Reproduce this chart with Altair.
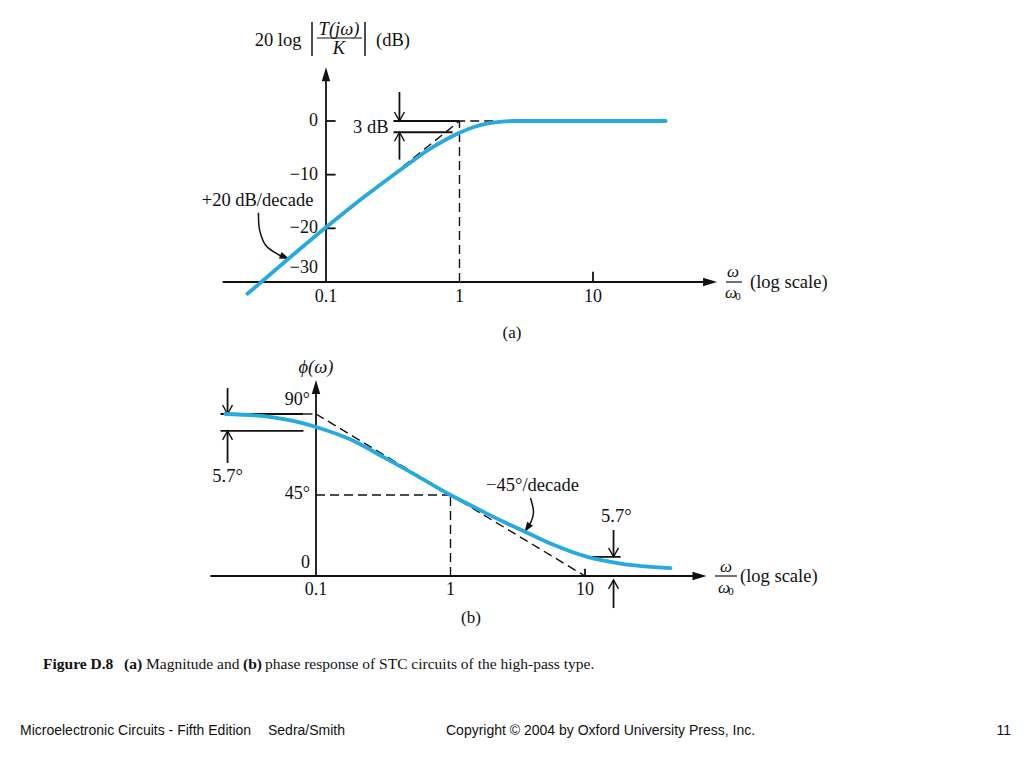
import altair as alt
import pandas as pd

# ---------------- values ----------------
# (a) magnitude response  (omega/omega0, dB)
mag_w = [0.0258, 0.05, 0.1, 0.18, 0.256, 0.4, 0.6, 0.8, 1.0, 1.25, 1.6, 2.0, 2.6, 5.0, 35.0]
mag_db = [-32.2, -26.1, -19.8, -14.7, -11.85, -8.3, -5.2, -3.4, -2.2, -1.2, -0.5, -0.15, 0.0, 0.0, 0.0]
mag_asym_w = [0.1, 1.0, 2.54]
mag_asym_db = [-20.0, 0.0, 0.0]
mag_yticks = [0, -10, -20]
mag_ylabel_text = ["0", "−10", "−20", "−30"]
mag_ylabel_val = [0, -10, -20, -27.4]
x_tick_text = ["0.1", "1", "10"]
x_tick_val = [0.1, 1, 10]

# (b) phase response  (omega/omega0, degrees)
ph_w = [0.0212, 0.0436, 0.0767, 0.1, 0.181, 0.318, 0.568, 1.0, 1.59, 2.5, 3.49, 5.83, 10.4, 18.4, 43.2]
ph_deg = [90, 88.5, 85.2, 82.8, 75.8, 66.0, 55.5, 45, 37.3, 30, 25, 17.3, 10.6, 6.9, 4.4]
ph_asym_w = [0.1, 10]
ph_asym_deg = [90, 0]
ph_ylabel_text = ["90°", "45°", "0"]
ph_ylabel_val = [97.8, 45.5, 7.2]

# ---------------- styles ----------------
CURVE = "#27a9e1"
INK = "#111111"
SERIF = "Liberation Serif"
SANS = "Liberation Sans"
DASH = [9, 5]

XS = {
    "a": dict(type="log", domain=[0.1, 10], range=[318, 585], nice=False),
    "b": dict(type="log", domain=[0.1, 10], range=[308, 577], nice=False),
}
YS = {
    "a": dict(type="linear", domain=[-30, 0], range=[274, 113], nice=False, zero=False),
    "b": dict(type="linear", domain=[0, 90], range=[568, 406], nice=False, zero=False),
}


def X(p, f="w"):
    return alt.X(f + ":Q", scale=alt.Scale(**XS[p]), axis=None)


def Y(p, f="v"):
    return alt.Y(f + ":Q", scale=alt.Scale(**YS[p]), axis=None)


def segs(p, rows, dash=False):
    df = pd.DataFrame(rows, columns=["w", "w2", "v", "v2"])
    m = dict(color=INK, strokeWidth=1.8)
    if dash:
        m.update(strokeDash=DASH, strokeWidth=1.4)
    return alt.Chart(df).mark_rule(**m).encode(x=X(p), x2="w2", y=Y(p), y2="v2")


def polyline(p, w, v, **mk):
    df = pd.DataFrame({"w": w, "v": v, "i": list(range(len(w)))})
    return alt.Chart(df).mark_line(**mk).encode(x=X(p), y=Y(p), order="i:Q")


def heads(p, rows, kind):
    df = pd.DataFrame(rows, columns=["w", "v", "ang"])
    if kind == "solid":
        mk = dict(shape="M0,0 L-1,-0.3 L-1,0.3 Z", filled=True, size=784,
                  color=INK, opacity=1, strokeWidth=0)
    elif kind == "v":
        mk = dict(shape="M-1,-0.55 L0,0 L-1,0.55", filled=False, size=324,
                  color=INK, opacity=1, strokeWidth=1.4)
    else:
        mk = dict(shape="M0,0 L-1,-0.35 L-1,0.35 Z", filled=True, size=400,
                  color=INK, opacity=1, strokeWidth=0)
    return alt.Chart(df).mark_point(**mk).encode(
        x=X(p), y=Y(p), angle=alt.Angle("ang:Q", scale=None))


def labels(p, w, v, t, **mk):
    df = pd.DataFrame({"w": w, "v": v, "t": t})
    base = dict(font=SERIF, fontSize=18, color=INK, baseline="middle", align="center")
    base.update(mk)
    return alt.Chart(df).mark_text(**base).encode(x=X(p), y=Y(p), text="t:N")


def ptext(t, x, y, **mk):
    base = dict(font=SERIF, fontSize=18.5, color=INK, baseline="middle", align="center")
    base.update(mk)
    return alt.Chart(pd.DataFrame({"t": [t]})).mark_text(**base).encode(
        x=alt.value(x), y=alt.value(y), text="t:N")


def prule(x, x2, y, y2, w=1.5):
    return alt.Chart(pd.DataFrame({"a": [0]})).mark_rule(color=INK, strokeWidth=w).encode(
        x=alt.value(x), x2=alt.value(x2), y=alt.value(y), y2=alt.value(y2))


layers = []

# ================= panel (a) =================
layers.append(segs("a", [
    (0.0168, 75, -30, -30),          # x axis
    (0.1, 0.1, -30, 8.5),            # y axis
    (0.1, 0.118, mag_yticks[0], mag_yticks[0]),
    (0.1, 0.118, mag_yticks[1], mag_yticks[1]),
    (0.1, 0.118, mag_yticks[2], mag_yticks[2]),
    (10, 10, -30, -28.1),            # tick at 10
    (0.32, 1.0, 0, 0),               # 0 dB reference
    (0.32, 0.887, -2.1, -2.1),       # -3 dB reference
    (0.355, 0.355, 5.4, 0),
    (0.355, 0.355, -7.2, -2.1),
]))
layers.append(segs("a", [(1, 1, -30, 0)], dash=True))
layers.append(polyline("a", mag_asym_w, mag_asym_db, color=INK, strokeWidth=1.4, strokeDash=DASH))
layers.append(heads("a", [(85, -30, 0), (0.1, 10, 270)], "solid"))
layers.append(heads("a", [(0.355, 0, 90), (0.355, -2.1, 270)], "v"))
layers.append(polyline("a", [0.0312, 0.0318, 0.0352, 0.0433, 0.0533],
                       [-17.1, -20.3, -23.1, -24.8, -25.7],
                       color=INK, strokeWidth=1.5, interpolate="cardinal"))
layers.append(heads("a", [(0.0533, -25.7, 22)], "small"))
layers.append(polyline("a", mag_w, mag_db, color=CURVE, strokeWidth=3.8,
                       interpolate="monotone", strokeCap="round"))
layers.append(labels("a", [0.1] * 4, mag_ylabel_val, mag_ylabel_text, align="right", dx=-8))
layers.append(labels("a", x_tick_val, [-30] * 3, x_tick_text, dy=15))
layers.append(labels("a", [0.294], [-1.1], ["3 dB"], align="right", fontSize=18.5))
layers.append(labels("a", [0.0307], [-14.7], ["+20 dB/decade"], fontSize=18.5))

# axis titles of (a)
layers.append(ptext("20 log", 270, 32))
layers.append(prule(304, 304, 14, 48))
layers.append(prule(357, 357, 14, 48))
layers.append(ptext("T(jω)", 331, 21, fontStyle="italic"))
layers.append(prule(309, 354, 30, 30, 1.2))
layers.append(ptext("K", 331, 40, fontStyle="italic"))
layers.append(ptext("(dB)", 385, 32))
layers.append(ptext("ω", 725, 264, fontStyle="italic", fontSize=17))
layers.append(prule(718, 734, 274, 274, 1.2))
layers.append(ptext("ω", 723, 285, fontStyle="italic", fontSize=17))
layers.append(ptext("0", 730, 289, fontSize=11))
layers.append(ptext("(log scale)", 742, 274, align="left"))
layers.append(ptext("(a)", 504, 325, fontSize=17))

# ================= panel (b) =================
layers.append(segs("b", [
    (0.0164, 75, 0, 0),              # x axis
    (0.1, 0.1, 0, 106),              # y axis
    (10, 10, 0, 4),                  # tick at 10
    (0.0195, 0.0807, 90, 90),
    (0.0195, 0.0807, 80.6, 80.6),
    (10, 18.4, 10.6, 10.6),
    (0.022, 0.022, 104.4, 90),
    (0.022, 0.022, 62.8, 80.6),
    (16.3, 16.3, 25.6, 10.6),
    (16.3, 16.3, -17.8, -2.2),
]))
layers.append(segs("b", [
    (0.0807, 0.1, 90, 90),
    (0.1, 1, 45, 45),
    (1, 1, 0, 45),
], dash=True))
layers.append(polyline("b", ph_asym_w, ph_asym_deg, color=INK, strokeWidth=1.4, strokeDash=DASH))
layers.append(heads("b", [(80, 0, 0), (0.1, 108.9, 270)], "solid"))
layers.append(heads("b", [(0.022, 90, 90), (0.022, 80.6, 270),
                          (16.3, 10.6, 90), (16.3, -2.2, 270)], "v"))
layers.append(polyline("b", [3.93, 4.14, 3.93, 3.55], [43.3, 35.6, 29.4, 24.4],
                       color=INK, strokeWidth=1.5, interpolate="cardinal"))
layers.append(heads("b", [(3.55, 24.4, 124)], "small"))
layers.append(polyline("b", ph_w, ph_deg, color=CURVE, strokeWidth=3.8,
                       interpolate="monotone", strokeCap="round"))
layers.append(labels("b", [0.1] * 3, ph_ylabel_val, ph_ylabel_text, align="right", dx=-6))
layers.append(labels("b", x_tick_val, [0] * 3, x_tick_text, dy=14))
layers.append(labels("b", [0.022], [55.6], ["5.7°"], fontSize=18.5))
layers.append(labels("b", [4.07], [50.6], ["−45°/decade"], fontSize=18.5))
layers.append(labels("b", [17.1], [33.3], ["5.7°"], fontSize=18.5))

layers.append(ptext("ϕ(ω)", 308, 359, fontStyle="italic"))
layers.append(ptext("ω", 718, 559, fontStyle="italic", fontSize=17))
layers.append(prule(707, 729, 568, 568, 1.2))
layers.append(ptext("ω", 716, 580, fontStyle="italic", fontSize=17))
layers.append(ptext("0", 723, 584, fontSize=11))
layers.append(ptext("(log scale)", 732, 568, align="left"))
layers.append(ptext("(b)", 463, 610, fontSize=17))

# ================= caption and footer =================
CAP = dict(fontSize=15.5, align="left")
layers.append(ptext("Figure D.8", 35, 656, fontWeight="bold", **CAP))
layers.append(ptext("(a)", 116, 656, fontWeight="bold", **CAP))
layers.append(ptext("Magnitude and", 138, 656, **CAP))
layers.append(ptext("(b)", 235, 656, fontWeight="bold", **CAP))
layers.append(ptext("phase response of STC circuits of the high-pass type.", 257, 656, **CAP))

FOOT = dict(font=SANS, fontSize=14, align="left")
layers.append(ptext("Microelectronic Circuits - Fifth Edition", 12, 723, **FOOT))
layers.append(ptext("Sedra/Smith", 260, 723, **FOOT))
layers.append(ptext("Copyright © 2004 by Oxford University Press, Inc.", 438, 723, **FOOT))
layers.append(ptext("11", 1003, 723, font=SANS, fontSize=14, align="right"))

chart = alt.layer(*layers).resolve_scale(
    x="independent", y="independent"
).properties(
    width=1008, height=752, padding=0,
    autosize=alt.AutoSizeParams(type="none"),
).configure_view(stroke=None)

chart.save("out.html", embed_options={"renderer": "svg", "actions": False})
